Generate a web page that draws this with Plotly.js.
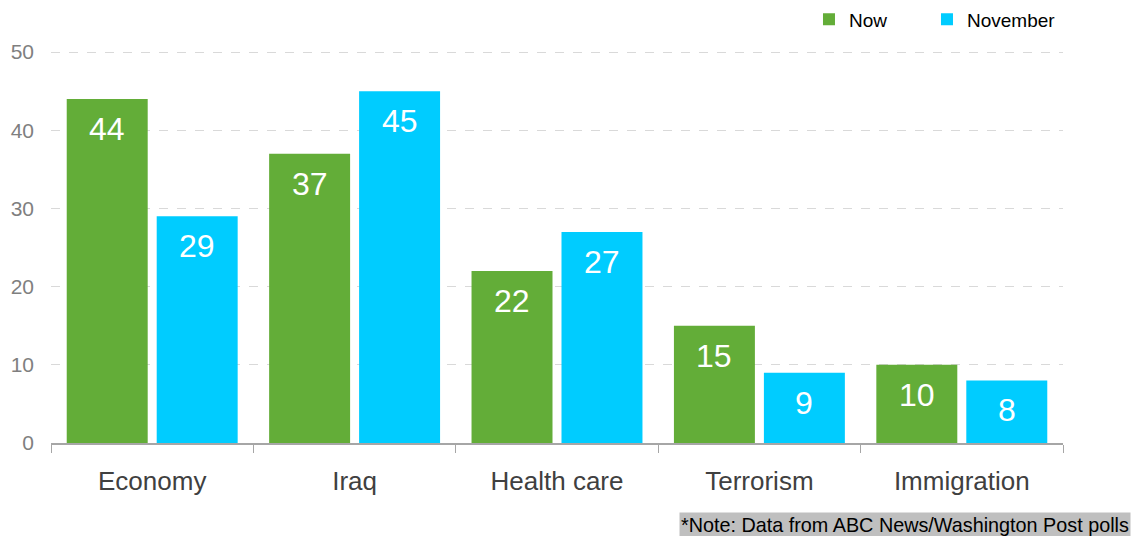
<!DOCTYPE html>
<html>
<head>
<meta charset="utf-8">
<script src="https://cdn.plot.ly/plotly-3.0.1.min.js"></script>
<style>html,body{margin:0;padding:0;background:#fff;}#chart{width:1133px;height:536px;}</style>
</head>
<body>
<div id="chart"></div>
<script>
var categories = ["Economy", "Iraq", "Health care", "Terrorism", "Immigration"];
var nowValues = [44, 37, 22, 15, 10];
var novemberValues = [29, 45, 27, 9, 8];
var seriesNames = ["Now", "November"];
var yTicks = [0, 10, 20, 30, 40, 50];
var noteText = "*Note: Data from ABC News/Washington Post polls";

var FONT = "Liberation Sans, Arial, sans-serif";
var GREEN = "#63ad38";
var CYAN = "#00ccff";

var traces = [
  {type: "bar", name: seriesNames[0], x: categories, y: nowValues,
   marker: {color: GREEN}, hoverinfo: "none", legend: "legend"},
  {type: "bar", name: seriesNames[1], x: categories, y: novemberValues,
   marker: {color: CYAN}, hoverinfo: "none", legend: "legend2"}
];

var annotations = [];
[nowValues, novemberValues].forEach(function (vals, s) {
  vals.forEach(function (v, i) {
    annotations.push({
      xref: "x", yref: "y", x: categories[i], y: v,
      xshift: s === 0 ? -45 : 45, yshift: -30,
      yanchor: "middle", xanchor: "center",
      text: String(v), showarrow: false,
      font: {family: FONT, size: 32, color: "#ffffff"}
    });
  });
});
annotations.push({
  xref: "paper", yref: "paper", x: 1.067, y: -0.208,
  xanchor: "right", yanchor: "middle",
  text: noteText, showarrow: false,
  bgcolor: "#bfbfbf", borderpad: 1,
  font: {family: FONT, size: 19.8, color: "#000000"}
});

var legendBase = {orientation: "h", y: 1.078, xanchor: "left", yanchor: "middle",
  font: {family: FONT, size: 19, color: "#000000"}, itemwidth: 30,
  bgcolor: "rgba(0,0,0,0)"};

var layout = {
  width: 1133, height: 536,
  margin: {l: 51, r: 70, t: 50, b: 93, autoexpand: false},
  paper_bgcolor: "#ffffff", plot_bgcolor: "#ffffff",
  barmode: "group", bargap: 0.111, bargroupgap: 0.1,
  showlegend: true,
  legend: Object.assign({}, legendBase, {x: 0.749}),
  legend2: Object.assign({}, legendBase, {x: 0.8656}),
  xaxis: {
    type: "category", tickson: "boundaries", ticks: "outside", ticklen: 8,
    tickcolor: "#a6a6a6", showline: true, linecolor: "#a6a6a6", linewidth: 1.5,
    showgrid: false, tickfont: {family: FONT, size: 26, color: "#404040"},
    ticklabelstandoff: 14, fixedrange: true
  },
  yaxis: {
    range: [0, 50.26], tickvals: yTicks, ticktext: yTicks.map(String),
    showgrid: true, gridcolor: "#d9d9d9", griddash: "dash", gridwidth: 1,
    zeroline: false, showline: false, ticks: "", ticklabelstandoff: 16,
    tickfont: {family: FONT, size: 21, color: "#7f7f7f"}, fixedrange: true
  },
  annotations: annotations
};

Plotly.newPlot("chart", traces, layout, {displayModeBar: false, staticPlot: true});
</script>
</body>
</html>
